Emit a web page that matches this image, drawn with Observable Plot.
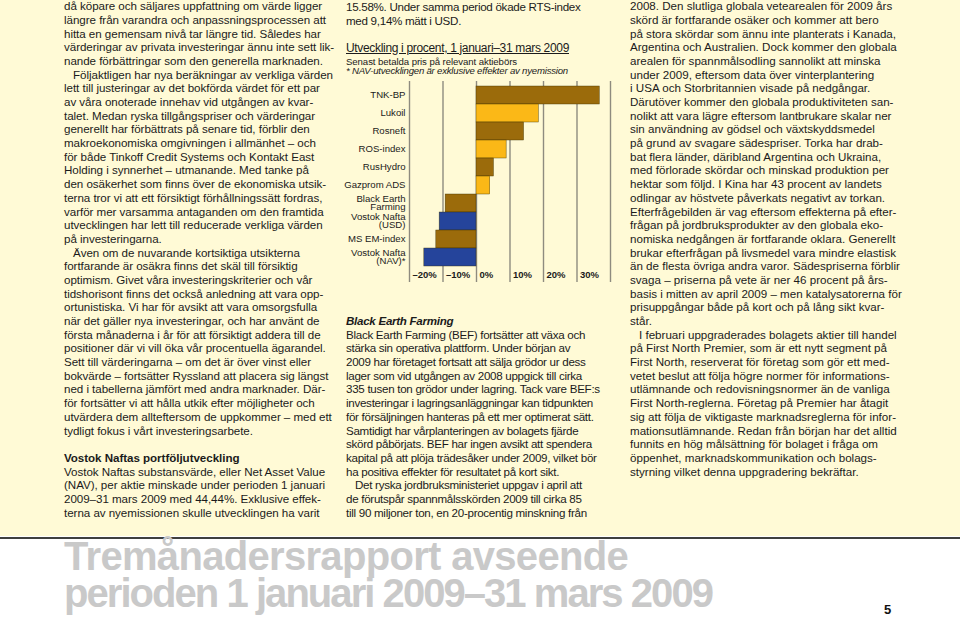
<!DOCTYPE html>
<html>
<head>
<meta charset="utf-8">
<script src="https://cdn.jsdelivr.net/npm/d3@7"></script>
<script src="https://cdn.jsdelivr.net/npm/@observablehq/plot@0.6"></script>
<style>
  html, body { margin:0; padding:0; background:#fff; }
  #page { position:relative; width:960px; height:620px; overflow:hidden; background:#fff; font-family:"Liberation Sans", Arial, sans-serif; color:#1b1b1b; }
  #cream { position:absolute; left:0; top:0; width:960px; height:536px; background:#fffad6; }
  .col { position:absolute; font-size:11.6px; line-height:13.7px; white-space:pre; }
  .col div { height:13.7px; }
  .ind { padding-left:9px; }
  .b { font-weight:bold; }
  .bi { font-weight:bold; font-style:italic; }
  #rule { position:absolute; left:0; top:537px; width:960px; height:2px; background:#3f3f3f; }
  .title { position:absolute; left:64px; font-size:40px; font-weight:bold; color:#c9c9c9; white-space:pre; line-height:38px; }
  #pnum { position:absolute; left:884px; top:602px; font-size:13px; font-weight:bold; color:#111; }
  .hdr { position:absolute; left:346px; white-space:pre; color:#1b1b1b; }
  #chart { position:absolute; left:340px; top:76px; }
</style>
</head>
<body>
<div id="page">
  <div id="cream"></div>
  <div class="col" id="colL" style="left:64px; top:-0.8px;"></div>
  <div class="col" id="colM1" style="left:346px; top:0.2px;"></div>
  <div class="col" id="colM2" style="left:346px; top:314px;"></div>
  <div class="col" id="colR" style="left:630px; top:-0.8px;"></div>
  <div class="hdr" id="h1" style="top:40.5px; font-size:12px; text-decoration:underline;"><span>Utveckling i procent, 1 januari–31 mars 2009</span></div>
  <div class="hdr" id="h2" style="top:55.5px; font-size:9.6px;"><span>Senast betalda pris på relevant aktiebörs</span></div>
  <div class="hdr" id="h3" style="top:65px; font-size:9.6px; font-style:italic;"><span>* NAV-utvecklingen är exklusive effekter av nyemission</span></div>
  <div id="chart"></div>
  <div id="rule"></div>
  <div class="title" id="t1" style="top:537px;"><span>Tremånadersrapport avseende</span></div>
  <div class="title" id="t2" style="top:574px;"><span>perioden 1 januari 2009–31 mars 2009</span></div>
  <div id="pnum">5</div>
</div>
<script>
// ---- chart data ----
const categories = ["TNK-BP","Lukoil","Rosneft","ROS-index","RusHydro","Gazprom ADS","Black Earth\nFarming","Vostok Nafta\n(USD)","MS EM-index","Vostok Nafta\n(NAV)*"];
const values = [36.8, 18.6, 14.2, 9.0, 5.2, 4.1, -9.2, -11.0, -12.0, -15.58];
const groups = ["olja","index","olja","index","olja","index","olja","vostok","olja","vostok"];
const xTicks = [-20, -10, 0, 10, 20, 30];
const gridValues = [-20, -10, 0, 10, 20, 30, 40];

// ---- body text ----
const leftLines = [
 ["då köpare och säljares uppfattning om värde ligger"],
 ["längre från varandra och anpassningsprocessen att"],
 ["hitta en gemensam nivå tar längre tid. Således har"],
 ["värderingar av privata investeringar ännu inte sett lik-"],
 ["nande förbättringar som den generella marknaden."],
 ["Följaktligen har nya beräkningar av verkliga värden","ind"],
 ["lett till justeringar av det bokförda värdet för ett par"],
 ["av våra onoterade innehav vid utgången av kvar-"],
 ["talet. Medan ryska tillgångspriser och värderingar"],
 ["generellt har förbättrats på senare tid, förblir den"],
 ["makroekonomiska omgivningen i allmänhet – och"],
 ["för både Tinkoff Credit Systems och Kontakt East"],
 ["Holding i synnerhet – utmanande. Med tanke på"],
 ["den osäkerhet som finns över de ekonomiska utsik-"],
 ["terna tror vi att ett försiktigt förhållningssätt fordras,"],
 ["varför mer varsamma antaganden om den framtida"],
 ["utvecklingen har lett till reducerade verkliga värden"],
 ["på investeringarna."],
 ["Även om de nuvarande kortsiktiga utsikterna","ind"],
 ["fortfarande är osäkra finns det skäl till försiktig"],
 ["optimism. Givet våra investeringskriterier och vår"],
 ["tidshorisont finns det också anledning att vara opp-"],
 ["ortunistiska. Vi har för avsikt att vara omsorgsfulla"],
 ["när det gäller nya investeringar, och har använt de"],
 ["första månaderna i år för att försiktigt addera till de"],
 ["positioner där vi vill öka vår procentuella ägarandel."],
 ["Sett till värderingarna – om det är över vinst eller"],
 ["bokvärde – fortsätter Ryssland att placera sig längst"],
 ["ned i tabellerna jämfört med andra marknader. Där-"],
 ["för fortsätter vi att hålla utkik efter möjligheter och"],
 ["utvärdera dem allteftersom de uppkommer – med ett"],
 ["tydligt fokus i vårt investeringsarbete."],
 [""],
 ["Vostok Naftas portföljutveckling","b"],
 ["Vostok Naftas substansvärde, eller Net Asset Value"],
 ["(NAV), per aktie minskade under perioden 1 januari"],
 ["2009–31 mars 2009 med 44,44%. Exklusive effek-"],
 ["terna av nyemissionen skulle utvecklingen ha varit"]
];
const midTopLines = [
 ["15.58%. Under samma period ökade RTS-index"],
 ["med 9,14% mätt i USD."]
];
const midLines = [
 ["Black Earth Farming","bi"],
 ["Black Earth Farming (BEF) fortsätter att växa och"],
 ["stärka sin operativa plattform. Under början av"],
 ["2009 har företaget fortsatt att sälja grödor ur dess"],
 ["lager som vid utgången av 2008 uppgick till cirka"],
 ["335 tusen ton grödor under lagring. Tack vare BEF:s"],
 ["investeringar i lagringsanläggningar kan tidpunkten"],
 ["för försäljningen hanteras på ett mer optimerat sätt."],
 ["Samtidigt har vårplanteringen av bolagets fjärde"],
 ["skörd påbörjats. BEF har ingen avsikt att spendera"],
 ["kapital på att plöja trädesåker under 2009, vilket bör"],
 ["ha positiva effekter för resultatet på kort sikt."],
 ["Det ryska jordbruksministeriet uppgav i april att","ind"],
 ["de förutspår spannmålsskörden 2009 till cirka 85"],
 ["till 90 miljoner ton, en 20-procentig minskning från"]
];
const rightLines = [
 ["2008. Den slutliga globala vetearealen för 2009 års"],
 ["skörd är fortfarande osäker och kommer att bero"],
 ["på stora skördar som ännu inte planterats i Kanada,"],
 ["Argentina och Australien. Dock kommer den globala"],
 ["arealen för spannmålsodling sannolikt att minska"],
 ["under 2009, eftersom data över vinterplantering"],
 ["i USA och Storbritannien visade på nedgångar."],
 ["Därutöver kommer den globala produktiviteten san-"],
 ["nolikt att vara lägre eftersom lantbrukare skalar ner"],
 ["sin användning av gödsel och växtskyddsmedel"],
 ["på grund av svagare sädespriser. Torka har drab-"],
 ["bat flera länder, däribland Argentina och Ukraina,"],
 ["med förlorade skördar och minskad produktion per"],
 ["hektar som följd. I Kina har 43 procent av landets"],
 ["odlingar av höstvete påverkats negativt av torkan."],
 ["Efterfrågebilden är vag eftersom effekterna på efter-"],
 ["frågan på jordbruksprodukter av den globala eko-"],
 ["nomiska nedgången är fortfarande oklara. Generellt"],
 ["brukar efterfrågan på livsmedel vara mindre elastisk"],
 ["än de flesta övriga andra varor. Sädespriserna förblir"],
 ["svaga – priserna på vete är ner 46 procent på års-"],
 ["basis i mitten av april 2009 – men katalysatorerna för"],
 ["prisuppgångar både på kort och på lång sikt kvar-"],
 ["står."],
 ["I februari uppgraderades bolagets aktier till handel","ind"],
 ["på First North Premier, som är ett nytt segment på"],
 ["First North, reserverat för företag som gör ett med-"],
 ["vetet beslut att följa högre normer för informations-"],
 ["utlämnande och redovisningsnormer än de vanliga"],
 ["First North-reglerna. Företag på Premier har åtagit"],
 ["sig att följa de viktigaste marknadsreglerna för infor-"],
 ["mationsutlämnande. Redan från början har det alltid"],
 ["funnits en hög målsättning för bolaget i fråga om"],
 ["öppenhet, marknadskommunikation och bolags-"],
 ["styrning vilket denna uppgradering bekräftar."]
];

function fill(id, lines) {
  const col = document.getElementById(id);
  const spans = [];
  for (const [t, cls] of lines) {
    const d = document.createElement("div");
    if (cls) d.className = cls;
    const s = document.createElement("span");
    s.textContent = t;
    d.appendChild(s);
    col.appendChild(d);
    spans.push(s);
  }
  return spans;
}
function calibrate(colId, spans, refIndex, target) {
  const col = document.getElementById(colId);
  col.style.letterSpacing = "0px";
  const s = spans[refIndex];
  const w = s.getBoundingClientRect().width;
  const ls = (target - w) / s.textContent.length;
  col.style.letterSpacing = ls + "px";
  return ls;
}
function fitEl(id, target) {
  const el = document.getElementById(id);
  const s = el.querySelector("span");
  el.style.letterSpacing = "0px";
  const w = s.getBoundingClientRect().width;
  el.style.letterSpacing = ((target - w) / s.textContent.length) + "px";
}

const sL = fill("colL", leftLines);
const sM1 = fill("colM1", midTopLines);
const sM2 = fill("colM2", midLines);
const sR = fill("colR", rightLines);
calibrate("colL", sL, 5, 260);
const lsM = calibrate("colM2", sM2, 6, 247);
document.getElementById("colM1").style.letterSpacing = lsM + "px";
calibrate("colR", sR, 18, 266);
fitEl("h1", 223);
fitEl("h2", 171);
fitEl("h3", 222);
fitEl("t1", 564);
fitEl("t2", 648);

// ---- chart ----
const data = categories.map((c, i) => ({category: c, value: values[i], group: groups[i]}));
const fmt = d => (d < 0 ? "\u2013" + (-d) : d) + "%";
const chart = Plot.plot({
  width: 272,
  height: 212,
  marginLeft: 69,
  marginRight: 2,
  marginTop: 5,
  marginBottom: 18,
  style: {background: "transparent", fontFamily: "Liberation Sans, Arial, sans-serif", fontSize: "10px", color: "#1b1b1b", overflow: "visible"},
  x: {domain: [-20, 40], axis: null},
  y: {domain: categories, padding: 0, label: null},
  color: {domain: ["olja", "index", "vostok"], range: ["#9b6b0b", "#fbb817", "#25449b"]},
  marks: [
    Plot.ruleX(gridValues, {stroke: "#8e8b7f", strokeWidth: 1.4, insetBottom: -12}),
    Plot.barX(data, {x: "value", y: "category", fill: "group", stroke: "#3b3000", strokeWidth: 0.5, strokeOpacity: 0.8}),
    Plot.axisY({tickSize: 0, tickPadding: 4, fontSize: 9.6, lineHeight: 0.88, label: null}),
    Plot.text(xTicks, {x: d => d, text: fmt, frameAnchor: "bottom", dy: 7, dx: 3, textAnchor: "start", fontWeight: "bold", fontSize: 9.5, fill: "#1b1b1b"})
  ]
});
document.getElementById("chart").appendChild(chart);
</script>
</body>
</html>
